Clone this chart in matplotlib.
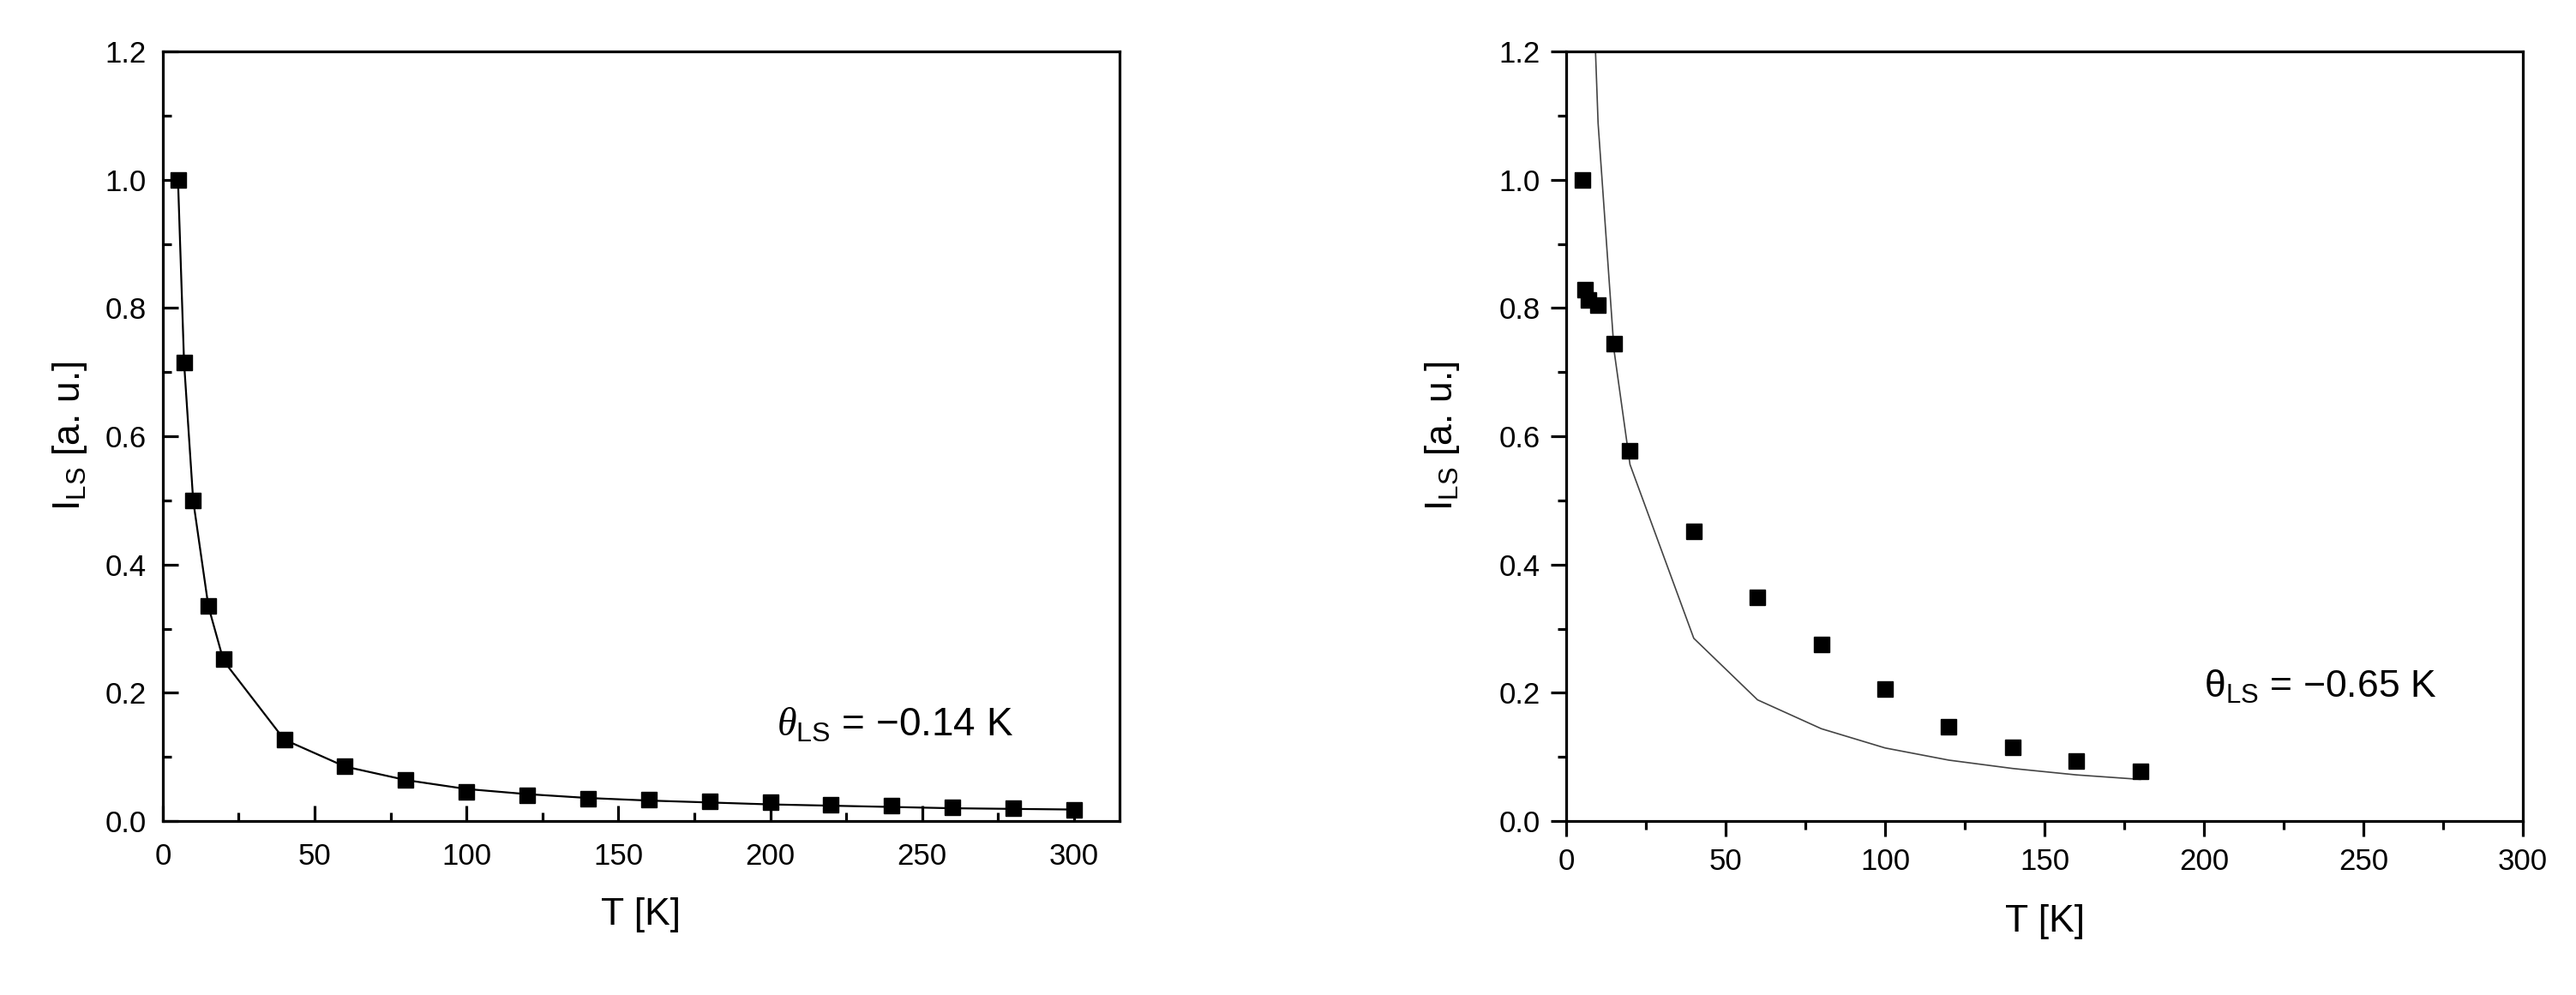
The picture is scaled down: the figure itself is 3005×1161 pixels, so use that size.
import matplotlib
matplotlib.use('Agg')
import matplotlib.pyplot as plt
from matplotlib.ticker import MultipleLocator

plt.rcParams['font.family'] = ['Liberation Sans', 'DejaVu Sans']
plt.rcParams['mathtext.fontset'] = 'custom'
plt.rcParams['mathtext.rm'] = 'Liberation Sans'
plt.rcParams['mathtext.it'] = 'Liberation Serif:italic'
plt.rcParams['mathtext.default'] = 'regular'

# left panel: measured points and fit (theta = -0.14 K)
t_left = [5, 7, 10, 15, 20, 40, 60, 80, 100, 120, 140, 160, 180, 200, 220, 240, 260, 280, 300]
i_left = [1.0, 0.715, 0.50, 0.335, 0.252, 0.127, 0.085, 0.064, 0.046, 0.040, 0.035,
          0.033, 0.031, 0.029, 0.026, 0.024, 0.022, 0.020, 0.017]
fit_left = [1.0, 0.715, 0.50, 0.335, 0.250, 0.127, 0.085, 0.064, 0.050, 0.042, 0.036,
            0.032, 0.029, 0.026, 0.024, 0.022, 0.020, 0.019, 0.018]

# right panel: measured points and fit (theta = -0.65 K)
t_right = [5, 6, 7, 10, 15, 20, 40, 60, 80, 100, 120, 140, 160, 180]
i_right = [1.0, 0.828, 0.813, 0.804, 0.745, 0.578, 0.452, 0.349, 0.276, 0.206,
           0.147, 0.115, 0.094, 0.078]
t_fit_right = [7, 10, 15, 20, 40, 60, 80, 100, 120, 140, 160, 180]
fit_right = [1.50, 1.088, 0.734, 0.556, 0.285, 0.189, 0.144, 0.114, 0.095, 0.082,
             0.072, 0.065]

fig = plt.figure(figsize=(30.05, 11.61), dpi=100)
ax1 = fig.add_axes([0.0632, 0.1748, 0.3714, 0.7735])
ax2 = fig.add_axes([0.608, 0.1748, 0.3714, 0.7735])

ax1.plot(t_left, fit_left, '-', color='black', linewidth=1.6)
ax1.plot(t_left, i_left, 's', color='black', markersize=13.5, linestyle='none')
ax1.set_xlim(0, 315)

ax2.plot(t_fit_right, fit_right, '-', color='#444444', linewidth=1.2)
ax2.plot(t_right, i_right, 's', color='black', markersize=13, linestyle='none')
ax2.set_xlim(0, 300)

for ax, direction in ((ax1, 'in'), (ax2, 'out')):
    ax.set_ylim(0, 1.2)
    ax.xaxis.set_major_locator(MultipleLocator(50))
    ax.xaxis.set_minor_locator(MultipleLocator(25))
    ax.yaxis.set_major_locator(MultipleLocator(0.2))
    ax.yaxis.set_minor_locator(MultipleLocator(0.1))
    ax.yaxis.set_major_formatter(matplotlib.ticker.FormatStrFormatter('%.1f'))
    for s in ax.spines.values():
        s.set_linewidth(2.3)
    ax.tick_params(which='both', direction=direction, top=False, right=False,
                   width=2.3, labelsize=25)
    ax.tick_params(which='major', length=13)
    ax.tick_params(which='minor', length=7)
    ax.set_xlabel('T [K]', fontsize=32)
    ax.set_ylabel('I$_{LS}$ [a. u.]', fontsize=32)

ax1.tick_params(axis='y', pad=14)
ax1.tick_params(axis='x', pad=18)
ax2.tick_params(axis='y', pad=9)
ax2.tick_params(axis='x', pad=9)
ax1.xaxis.labelpad = 22
ax2.xaxis.labelpad = 24
ax1.yaxis.labelpad = 13
ax2.yaxis.labelpad = 31

ax1.text(202, 0.15, r'$\mathit{\theta}_{LS}$ = −0.14 K', fontsize=33, va='center')
ax2.text(200, 0.21, r'θ$_{LS}$ = −0.65 K', fontsize=32, va='center')

fig.savefig('out.png', dpi=100)
